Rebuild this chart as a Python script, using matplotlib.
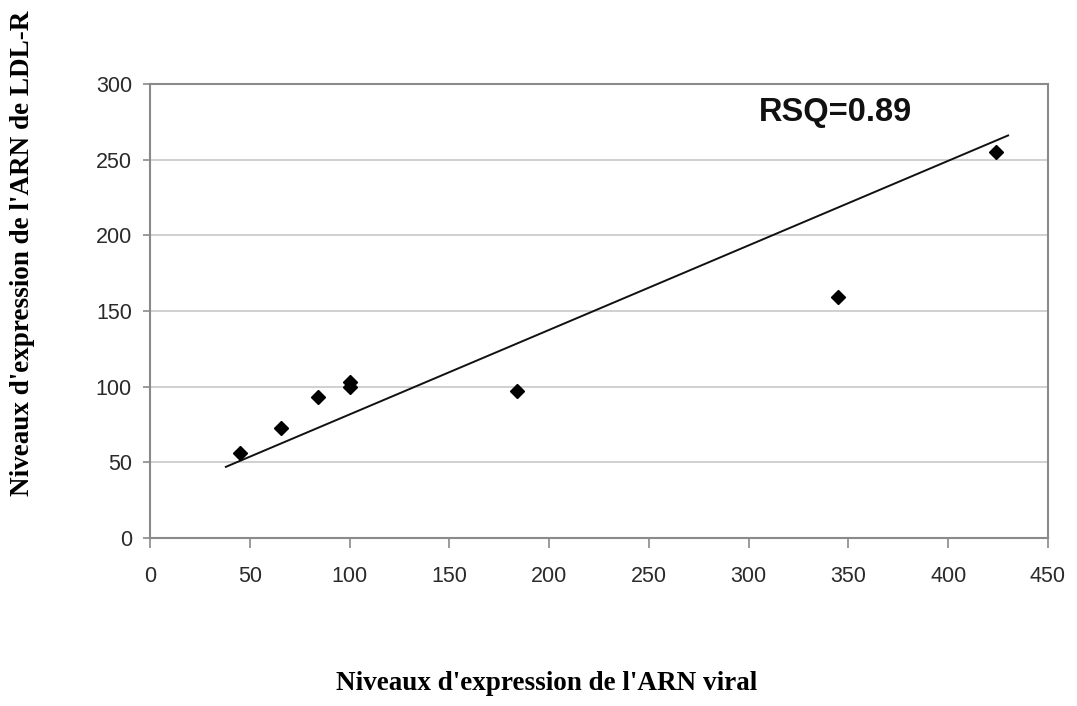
import matplotlib
matplotlib.use("Agg")
import matplotlib.pyplot as plt

# Data
viral_rna = [45, 65.5, 84, 100, 100, 184, 345, 424]
ldlr_rna = [56, 73, 93, 100, 103, 97, 159, 255]
trend_x = [38, 430]
trend_y = [47, 266]
x_ticks = [0, 50, 100, 150, 200, 250, 300, 350, 400, 450]
y_ticks = [0, 50, 100, 150, 200, 250, 300]
rsq_label = "RSQ=0.89"
x_title = "Niveaux d'expression de l'ARN viral"
y_title = "Niveaux d'expression de l'ARN de LDL-R"

fig = plt.figure(figsize=(10.77, 7.06), dpi=100)
ax = fig.add_axes([150/1077, 1-538/706, (1048-150)/1077, (538-84)/706])

ax.set_xlim(0, 450)
ax.set_ylim(0, 300)
ax.set_xticks(x_ticks)
ax.set_yticks(y_ticks)

ax.yaxis.grid(True, color="#c8c8c8", linewidth=1.2)
ax.set_axisbelow(True)

for s in ax.spines.values():
    s.set_color("#8a8a8a")
    s.set_linewidth(1.5)

ax.tick_params(axis="both", direction="out", color="#8a8a8a", width=1.2,
               labelsize=15.5, labelcolor="#2a2a2a")
ax.tick_params(axis="x", length=7, pad=13)
ax.tick_params(axis="y", length=5, pad=8)
for lab in ax.get_xticklabels() + ax.get_yticklabels():
    lab.set_fontfamily("Liberation Sans")

ax.plot(trend_x, trend_y, color="#111111", linewidth=1.4)
ax.plot(viral_rna, ldlr_rna, linestyle="none", marker="D", markersize=7.5,
        color="#000000")

ax.text(305, 281, rsq_label, fontsize=23.5, fontweight="bold",
        family="Liberation Sans", va="center", ha="left", color="#111111")

fig.text(547/1077, 1-684/706, x_title, fontsize=19.5, fontweight="bold",
         family="Liberation Serif", ha="center", va="center")
fig.text(23/1077, 1-253/706, y_title, fontsize=19.5, fontweight="bold",
         family="Liberation Serif", ha="center", va="center", rotation=90)

fig.savefig("out.png", dpi=100)
